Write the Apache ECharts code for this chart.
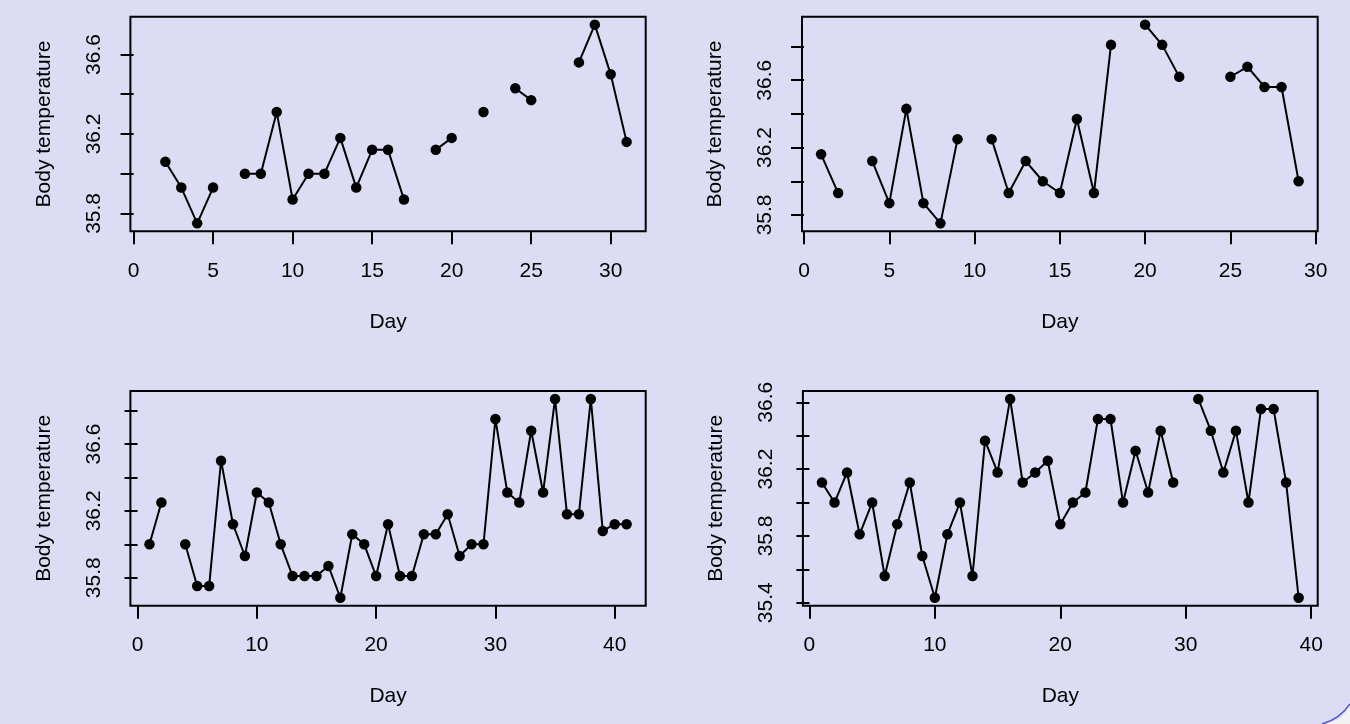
<!DOCTYPE html>
<html>
<head>
<meta charset="utf-8">
<script src="https://cdn.jsdelivr.net/npm/echarts@6/dist/echarts.min.js"></script>
<style>
html,body{margin:0;padding:0;background:#dcdcf4;}
#chart{width:1350px;height:724px;}
</style>
</head>
<body>
<div id="chart"></div>
<script>
// ---- data ----
const days1 = [1,2,3,4,5,6,7,8,9,10,11,12,13,14,15,16,17,18,19,20,21,22,23,24,25,26,27,28,29,30,31];
const temp1 = [null,36.06,35.93,35.75,35.93,null,36.0,36.0,36.31,35.87,36.0,36.0,36.18,35.93,36.12,36.12,35.87,null,36.12,36.18,null,36.31,null,36.43,36.37,null,null,36.56,36.75,36.50,36.16];

const days2 = [1,2,3,4,5,6,7,8,9,10,11,12,13,14,15,16,17,18,19,20,21,22,23,24,25,26,27,28,29];
const temp2 = [36.16,35.93,null,36.12,35.87,36.43,35.87,35.75,36.25,null,36.25,35.93,36.12,36.0,35.93,36.37,35.93,36.81,null,36.93,36.81,36.62,null,null,36.62,36.68,36.56,36.56,36.0];

const days3 = [1,2,3,4,5,6,7,8,9,10,11,12,13,14,15,16,17,18,19,20,21,22,23,24,25,26,27,28,29,30,31,32,33,34,35,36,37,38,39,40,41];
const temp3 = [36.0,36.25,null,36.0,35.75,35.75,36.50,36.12,35.93,36.31,36.25,36.0,35.81,35.81,35.81,35.87,35.68,36.06,36.0,35.81,36.12,35.81,35.81,36.06,36.06,36.18,35.93,36.0,36.0,36.75,36.31,36.25,36.68,36.31,36.87,36.18,36.18,36.87,36.08,36.12,36.12];

const days4 = [1,2,3,4,5,6,7,8,9,10,11,12,13,14,15,16,17,18,19,20,21,22,23,24,25,26,27,28,29,30,31,32,33,34,35,36,37,38,39];
const temp4 = [36.12,36.0,36.18,35.81,36.0,35.56,35.87,36.12,35.68,35.43,35.81,36.0,35.56,36.37,36.18,36.62,36.12,36.18,36.25,35.87,36.0,36.06,36.50,36.50,36.0,36.31,36.06,36.43,36.12,null,36.62,36.43,36.18,36.43,36.0,36.56,36.56,36.12,35.43];

// tick positions and labelled ticks
const xTicks1 = [0,5,10,15,20,25,30];
const xTicks2 = [0,5,10,15,20,25,30];
const xTicks3 = [0,10,20,30,40];
const xTicks4 = [0,10,20,30,40];
const yTicks1 = [35.8,36.0,36.2,36.4,36.6];
const yLabels1 = [35.8,36.2,36.6];
const yTicks2 = [35.8,36.0,36.2,36.4,36.6,36.8];
const yLabels2 = [35.8,36.2,36.6];
const yTicks3 = [35.8,36.0,36.2,36.4,36.6,36.8];
const yLabels3 = [35.8,36.2,36.6];
const yTicks4 = [35.4,35.6,35.8,36.0,36.2,36.4,36.6];
const yLabels4 = [35.4,35.8,36.2,36.6];

const xName = 'Day';
const yName = 'Body temperature';

// ---- layout ----
const panels = [
  {days: days1, temp: temp1, xt: xTicks1, yt: yTicks1, yl: yLabels1, grid: {left: 130.4, top: 16.7, width: 515.3, height: 214.6}},
  {days: days2, temp: temp2, xt: xTicks2, yt: yTicks2, yl: yLabels2, grid: {left: 802, top: 16.7, width: 515.7, height: 214.6}},
  {days: days3, temp: temp3, xt: xTicks3, yt: yTicks3, yl: yLabels3, grid: {left: 130.4, top: 391, width: 515.3, height: 214.7}},
  {days: days4, temp: temp4, xt: xTicks4, yt: yTicks4, yl: yLabels4, grid: {left: 802.9, top: 391, width: 514.8, height: 214.7}}
];

const FONT = '"Liberation Sans", Arial, Helvetica, sans-serif';
const FS = 21;

function rRange(vals) {
  const v = vals.filter(x => x !== null && x !== undefined);
  const lo = Math.min(...v), hi = Math.max(...v);
  const pad = (hi - lo) * 0.04;
  return [lo - pad, hi + pad];
}

const grids = [], xAxes = [], yAxes = [], series = [];
panels.forEach((p, i) => {
  grids.push(Object.assign({show: true, borderColor: '#000', borderWidth: 2, backgroundColor: 'transparent', containLabel: false}, p.grid));
  const xr = rRange(p.days);
  const yr = rRange(p.temp);
  xAxes.push({
    type: 'value', gridIndex: i, min: xr[0], max: xr[1],
    name: xName, nameLocation: 'middle', nameGap: 80,
    nameTextStyle: {fontFamily: FONT, fontSize: FS, color: '#000'},
    axisLine: {show: false},
    splitLine: {show: false},
    axisTick: {show: true, length: 13, lineStyle: {color: '#000', width: 2}, customValues: p.xt},
    axisLabel: {show: true, margin: 29, fontFamily: FONT, fontSize: FS, color: '#000', customValues: p.xt}
  });
  yAxes.push({
    type: 'value', gridIndex: i, min: yr[0], max: yr[1],
    name: yName, nameLocation: 'middle', nameGap: 76, nameRotate: 90,
    nameTextStyle: {fontFamily: FONT, fontSize: FS, color: '#000'},
    axisLine: {show: false},
    splitLine: {show: false},
    axisTick: {show: true, length: 13, lineStyle: {color: '#000', width: 2}, customValues: p.yt},
    axisLabel: {show: true, rotate: 90, margin: 26, fontFamily: FONT, fontSize: FS, color: '#000',
      customValues: p.yl, formatter: v => Number(v).toFixed(1)}
  });
  series.push({
    type: 'line', xAxisIndex: i, yAxisIndex: i,
    data: p.days.map((d, k) => [d, p.temp[k] === null ? '-' : p.temp[k]]),
    connectNulls: false,
    symbol: 'circle', symbolSize: 10.5, showAllSymbol: true,
    lineStyle: {color: '#000', width: 2},
    itemStyle: {color: '#000'},
    emphasis: {disabled: true},
    animation: false
  });
});

const chart = echarts.init(document.getElementById('chart'), null, {renderer: 'canvas'});
chart.setOption({
  backgroundColor: '#dcdcf4',
  animation: false,
  grid: grids,
  xAxis: xAxes,
  yAxis: yAxes,
  series: series,
  graphic: [
    {type: 'polygon', silent: true,
     shape: {points: [[1322,724],[1331,722],[1339,719],[1345,713],[1350,704],[1350,724]]},
     style: {fill: '#f2f2f2', stroke: null}},
    {type: 'bezierCurve', silent: true,
     shape: {x1: 1322, y1: 724, x2: 1350, y2: 704, cpx1: 1340, cpy1: 719},
     style: {fill: null, stroke: '#5555d5', lineWidth: 1.5}}
  ]
});
</script>
</body>
</html>
